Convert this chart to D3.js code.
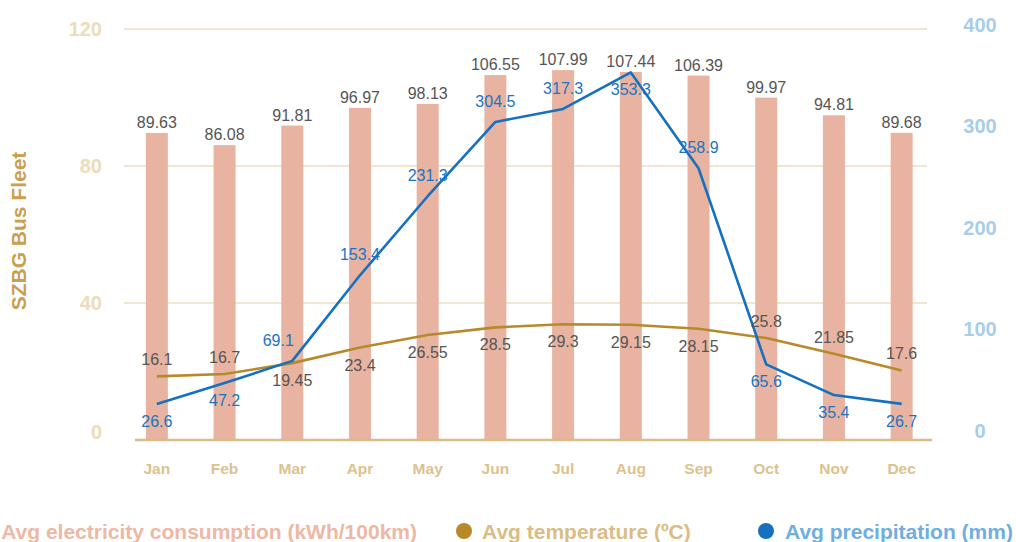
<!DOCTYPE html>
<html>
<head>
<meta charset="utf-8">
<script src="https://cdn.jsdelivr.net/npm/d3@7"></script>
<style>
  html, body { margin: 0; padding: 0; background: #fff; }
  svg { display: block; font-family: "Liberation Sans", Arial, sans-serif; }
</style>
</head>
<body>
<svg id="chart" width="1016" height="542"></svg>
<script>
// Monthly data for the SZBG bus fleet
const months = ["Jan", "Feb", "Mar", "Apr", "May", "Jun", "Jul", "Aug", "Sep", "Oct", "Nov", "Dec"];
const electricity = [89.63, 86.08, 91.81, 96.97, 98.13, 106.55, 107.99, 107.44, 106.39, 99.97, 94.81, 89.68];
const temperature = [16.1, 16.7, 19.45, 23.4, 26.55, 28.5, 29.3, 29.15, 28.15, 25.8, 21.85, 17.6];
const precipitation = [26.6, 47.2, 69.1, 153.4, 231.3, 304.5, 317.3, 353.3, 258.9, 65.6, 35.4, 26.7];
const leftTicks = [0, 40, 80, 120];
const rightTicks = [0, 100, 200, 300, 400];

// Label placement around line points: 1 = above, -1 = below
const tempLabelSide = [1, 1, -1, -1, -1, -1, -1, -1, -1, 1, 1, 1];
const precLabelSide = [-1, -1, 1, 1, 1, 1, 1, -1, 1, -1, -1, -1];

const svg = d3.select("#chart");

const x = d3.scaleBand().domain(months).range([123, 935.5]).paddingInner(0.675).paddingOuter(0.3375);
const cx = m => x(m) + x.bandwidth() / 2;
const yLeft = d3.scaleLinear().domain([0, 120]).range([440, 29]);
const yTemp = d3.scaleLinear().domain([0, 104]).range([440, 29]);
const yRight = d3.scaleLinear().domain([0, 400]).range([431, 25]);

// Horizontal gridlines
svg.append("g").selectAll("line")
  .data(leftTicks.filter(t => t > 0))
  .join("line")
  .attr("x1", 124).attr("x2", 927)
  .attr("y1", d => yLeft(d)).attr("y2", d => yLeft(d))
  .attr("stroke", "#f1e6d0").attr("stroke-width", 2.2);

// Left axis labels
const leftAxis = d3.axisLeft(yLeft).tickValues(leftTicks).tickSize(0).tickPadding(0);
const gl = svg.append("g").attr("transform", "translate(102,0)").call(leftAxis);
gl.select(".domain").remove();
gl.selectAll("text")
  .attr("fill", "#ecdcb9").attr("font-size", 20).attr("font-weight", "bold")
  .attr("font-family", "Liberation Sans, Arial, sans-serif")
  .attr("dy", d => d === 0 ? "-0.1em" : "0.3em");

// Right axis labels
const rightAxis = d3.axisRight(yRight).tickValues(rightTicks).tickSize(0).tickPadding(0);
const gr = svg.append("g").attr("transform", "translate(980,0)").call(rightAxis);
gr.select(".domain").remove();
gr.selectAll("text")
  .attr("fill", "#a9cde9").attr("font-size", 20).attr("font-weight", "bold")
  .attr("font-family", "Liberation Sans, Arial, sans-serif")
  .attr("text-anchor", "middle").attr("dy", "0.3em");

// Bars: electricity consumption
svg.append("g").selectAll("rect")
  .data(electricity)
  .join("rect")
  .attr("x", (d, i) => x(months[i]))
  .attr("width", x.bandwidth())
  .attr("y", d => yLeft(d))
  .attr("height", d => yLeft(0) - yLeft(d))
  .attr("fill", "#e8b3a0");

// Baseline
svg.append("line")
  .attr("x1", 135).attr("x2", 932)
  .attr("y1", yLeft(0)).attr("y2", yLeft(0))
  .attr("stroke", "#d9bc84").attr("stroke-width", 2.5);

// Bar value labels
svg.append("g").selectAll("text")
  .data(electricity)
  .join("text")
  .attr("x", (d, i) => cx(months[i]))
  .attr("y", d => yLeft(d) - 5)
  .attr("text-anchor", "middle")
  .attr("font-size", 16).attr("fill", "#555")
  .text(d => d.toFixed(2));

// Temperature line
const tempLine = d3.line().x((d, i) => cx(months[i])).y(d => yTemp(d));
svg.append("path")
  .datum(temperature)
  .attr("d", tempLine)
  .attr("fill", "none").attr("stroke", "#b8892a").attr("stroke-width", 2.6)
  .attr("stroke-linejoin", "round");

// Precipitation line
const precLine = d3.line().x((d, i) => cx(months[i])).y(d => yRight(d));
svg.append("path")
  .datum(precipitation)
  .attr("d", precLine)
  .attr("fill", "none").attr("stroke", "#1570c0").attr("stroke-width", 2.6)
  .attr("stroke-linejoin", "round");

// Temperature labels
svg.append("g").selectAll("text")
  .data(temperature)
  .join("text")
  .attr("x", (d, i) => cx(months[i]))
  .attr("y", (d, i) => yTemp(d) + (tempLabelSide[i] > 0 ? -11 : 23))
  .attr("text-anchor", "middle")
  .attr("font-size", 16).attr("fill", "#555")
  .text(d => d);

// Precipitation labels
svg.append("g").selectAll("text")
  .data(precipitation)
  .join("text")
  .attr("x", (d, i) => cx(months[i]) + (i === 2 ? -14 : 0))
  .attr("y", (d, i) => yRight(d) + (precLabelSide[i] > 0 ? -15 : 23))
  .attr("text-anchor", "middle")
  .attr("font-size", 16).attr("fill", "#1a74c4")
  .text(d => d);

// Category labels
svg.append("g").selectAll("text")
  .data(months)
  .join("text")
  .attr("x", d => cx(d))
  .attr("y", 474)
  .attr("text-anchor", "middle")
  .attr("font-size", 15.5).attr("font-weight", "bold").attr("fill", "#dcc28e")
  .text(d => d);

// Vertical axis title
svg.append("text")
  .attr("transform", "translate(26,231) rotate(-90)")
  .attr("text-anchor", "middle")
  .attr("font-size", 21).attr("font-weight", "bold").attr("fill", "#c9a050")
  .text("SZBG Bus Fleet");

// Legend
const legend = svg.append("g").attr("font-weight", "bold").attr("font-size", 21);
legend.append("circle").attr("cx", -20).attr("cy", 531).attr("r", 8).attr("fill", "#e8b3a0");
legend.append("text").attr("x", 417).attr("y", 539).attr("text-anchor", "end")
  .attr("fill", "#edb8a4").text("Avg electricity consumption (kWh/100km)");
legend.append("circle").attr("cx", 464).attr("cy", 531).attr("r", 8).attr("fill", "#b8892a");
legend.append("text").attr("x", 482).attr("y", 539)
  .attr("fill", "#dabd85").text("Avg temperature (ºC)");
legend.append("circle").attr("cx", 766).attr("cy", 531).attr("r", 8).attr("fill", "#1570c0");
legend.append("text").attr("x", 785).attr("y", 539)
  .attr("fill", "#6eaee0").text("Avg precipitation (mm)");
</script>
</body>
</html>
